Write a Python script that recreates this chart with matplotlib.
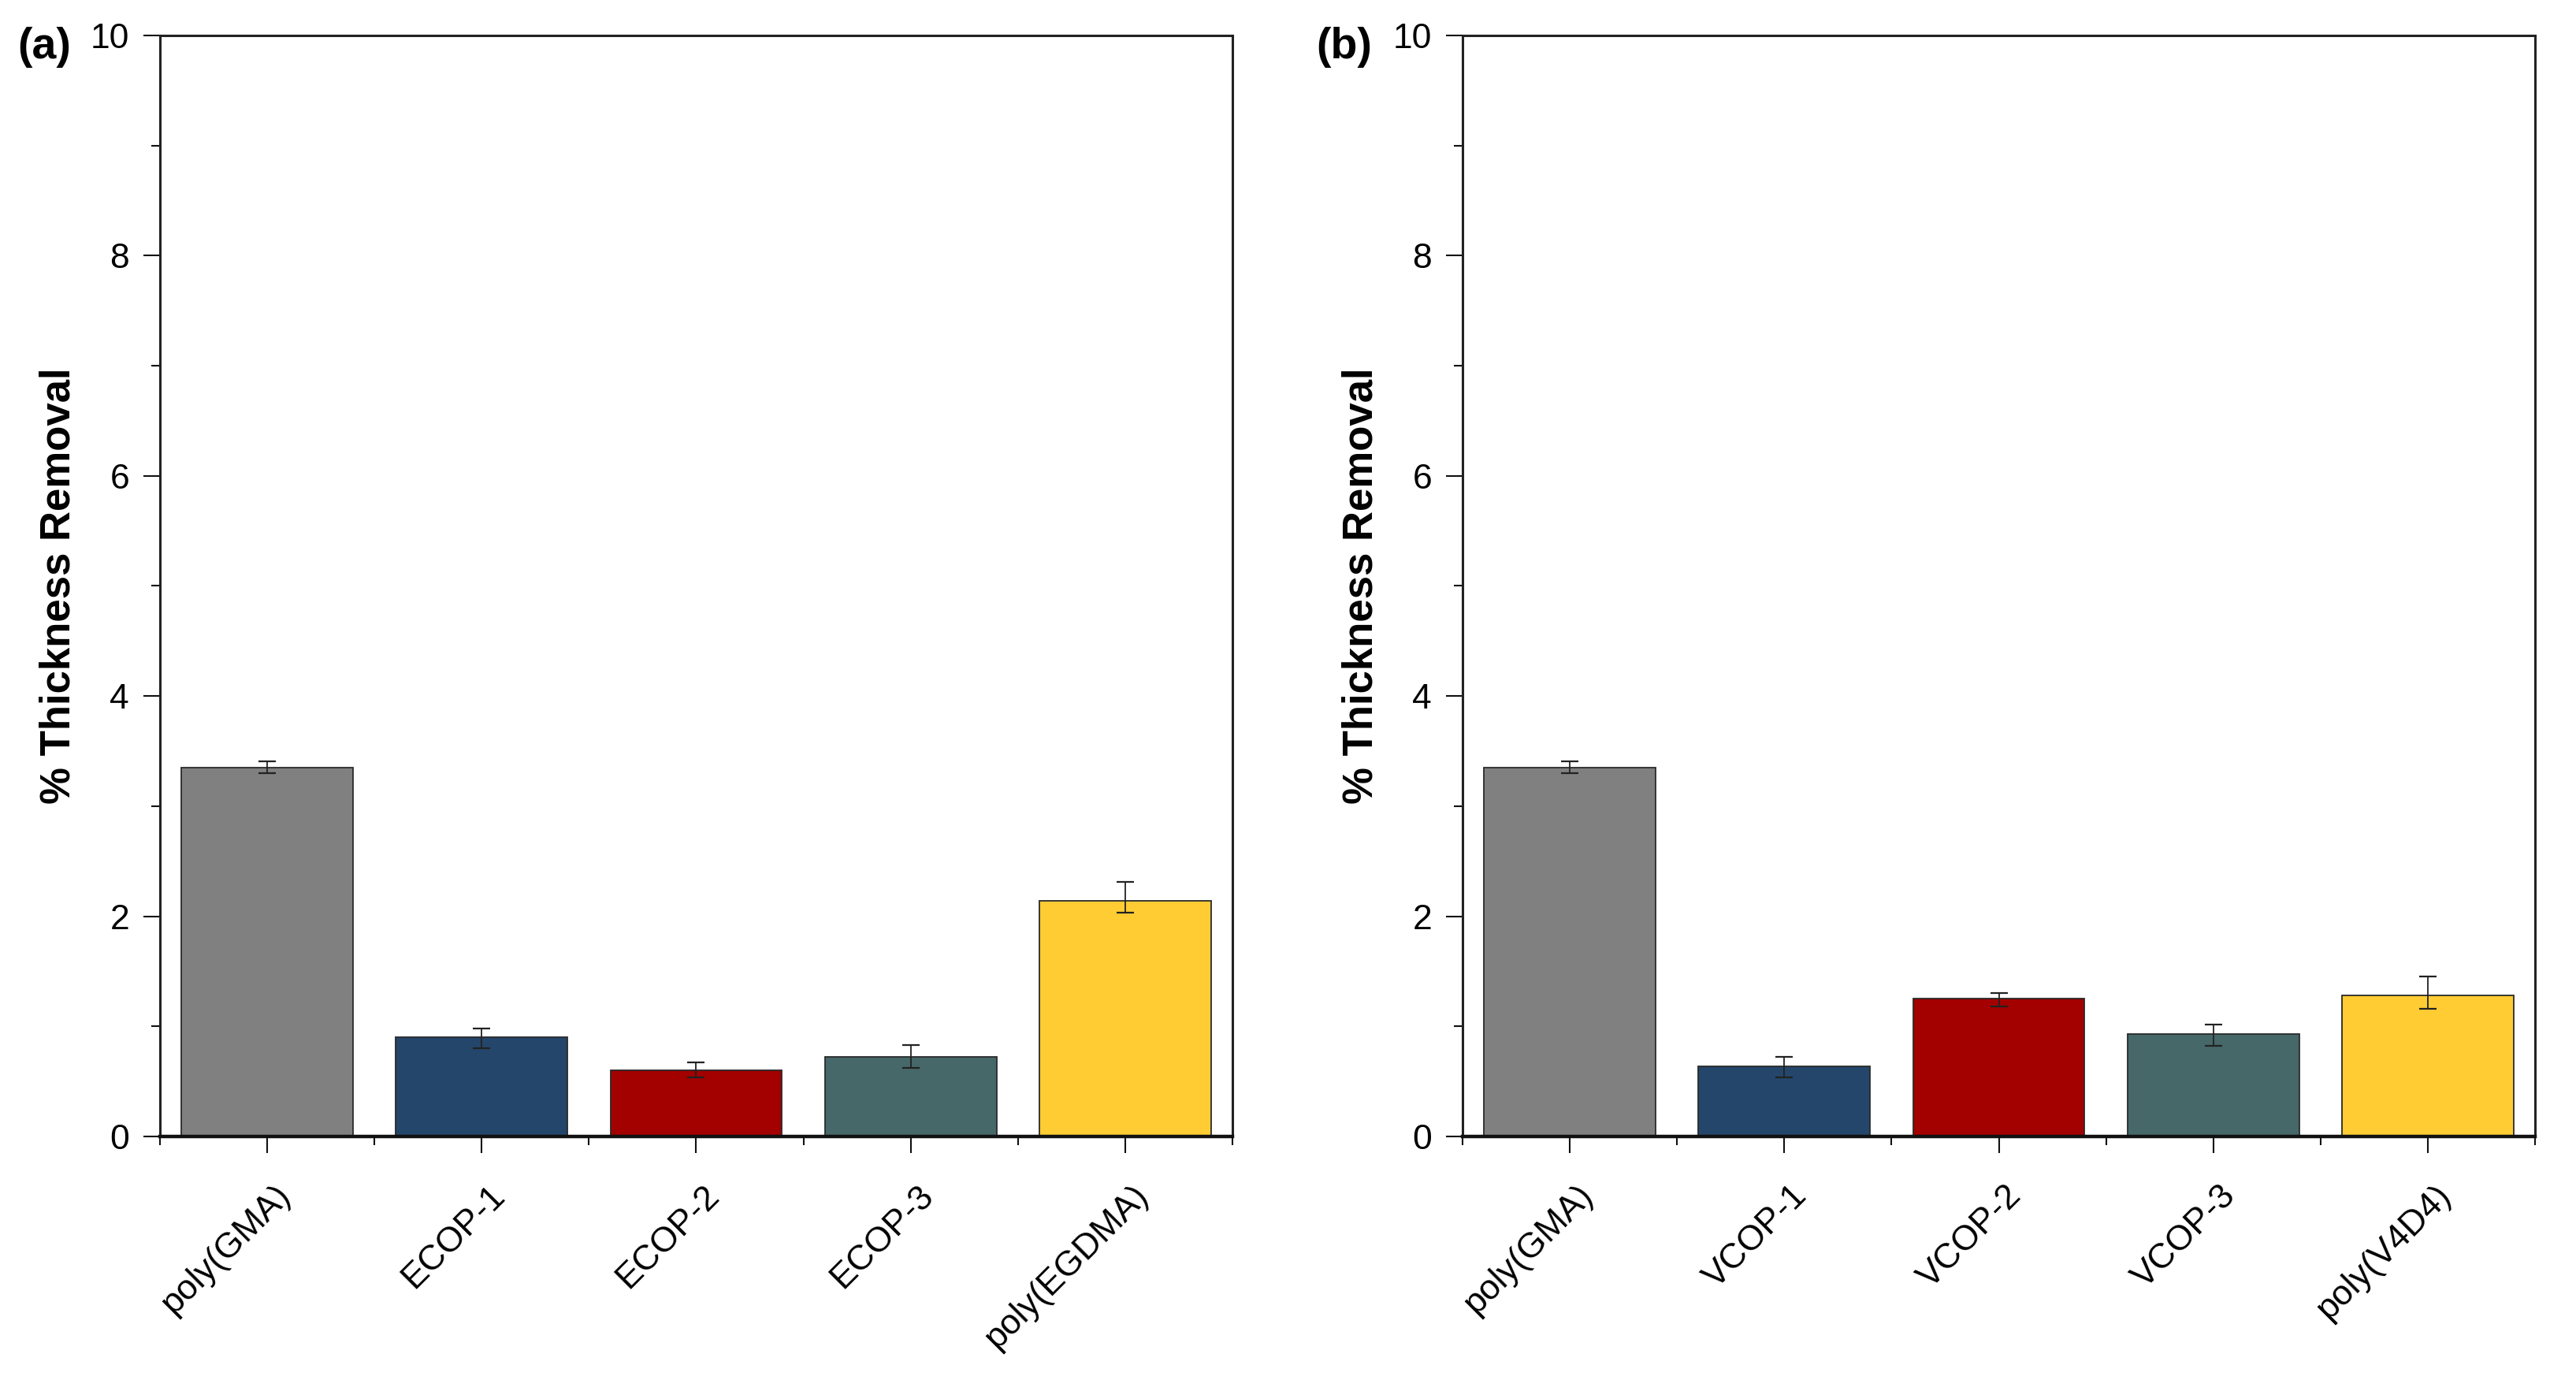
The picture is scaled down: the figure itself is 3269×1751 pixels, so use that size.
import matplotlib
matplotlib.use("Agg")
import matplotlib.pyplot as plt
from matplotlib.ticker import MultipleLocator, FixedLocator
from matplotlib.transforms import ScaledTranslation
import numpy as np

plt.rcParams['font.family'] = ['Liberation Sans', 'DejaVu Sans']

# ---- data ----
cats_a = ["poly(GMA)", "ECOP-1", "ECOP-2", "ECOP-3", "poly(EGDMA)"]
vals_a = [3.35, 0.90, 0.60, 0.72, 2.14]
err_lo_a = [0.05, 0.10, 0.06, 0.10, 0.11]
err_hi_a = [0.06, 0.08, 0.07, 0.11, 0.17]

cats_b = ["poly(GMA)", "VCOP-1", "VCOP-2", "VCOP-3", "poly(V4D4)"]
vals_b = [3.35, 0.64, 1.25, 0.93, 1.28]
err_lo_b = [0.05, 0.10, 0.07, 0.11, 0.12]
err_hi_b = [0.06, 0.08, 0.05, 0.09, 0.17]

colors = ["#808080", "#24466A", "#A30000", "#466869", "#FFCC33"]
panel_labels = ["(a)", "(b)"]
ylabel = "% Thickness Removal"

W, H = 3269, 1751
DPI = 100
fig = plt.figure(figsize=(W / DPI, H / DPI), dpi=DPI)

ax_left_px = [203, 1856]
ax_w_px = 1361
ax_top_px = 45
ax_bot_px = 1442
label_x_px = [22, 1670]


def draw(ax, cats, vals, lo, hi):
    x = np.arange(1, len(cats) + 1)
    ax.bar(x, vals, width=0.8, color=colors, edgecolor="#2a2a2a",
           linewidth=1.3, zorder=2)
    ax.errorbar(x, vals, yerr=[lo, hi], fmt="none", ecolor="#222222",
                elinewidth=1.3, capsize=8, capthick=1.6, zorder=3)
    ax.set_xlim(0.5, len(cats) + 0.5)
    ax.set_ylim(0, 10)
    ax.yaxis.set_major_locator(MultipleLocator(2))
    ax.yaxis.set_minor_locator(MultipleLocator(1))
    ax.set_xticks(x)
    ax.xaxis.set_minor_locator(FixedLocator(np.arange(0.5, len(cats) + 1, 1.0)))
    ax.tick_params(axis="both", which="major", direction="out", length=15,
                   width=1.5, labelsize=32, color="#111111")
    ax.tick_params(axis="y", which="major", pad=13)
    ax.tick_params(axis="x", which="major", pad=24)
    ax.tick_params(axis="both", which="minor", direction="out", length=8,
                   width=1.5, color="#111111")
    ax.set_xticklabels(cats, rotation=45, ha="right", va="top")
    off = ScaledTranslation(37 / DPI, 0, fig.dpi_scale_trans)
    for lab in ax.get_xticklabels():
        lab.set_transform(lab.get_transform() + off)
    for s in ["left", "right", "top"]:
        ax.spines[s].set_linewidth(2.2)
        ax.spines[s].set_color("#222222")
    ax.spines["bottom"].set_linewidth(3.2)
    ax.spines["bottom"].set_color("#111111")
    ax.set_ylabel(ylabel, fontsize=38, fontweight="bold", labelpad=11)


for i, (cats, vals, lo, hi) in enumerate([(cats_a, vals_a, err_lo_a, err_hi_a),
                                         (cats_b, vals_b, err_lo_b, err_hi_b)]):
    ax = fig.add_axes([ax_left_px[i] / W, 1 - ax_bot_px / H,
                       ax_w_px / W, (ax_bot_px - ax_top_px) / H])
    draw(ax, cats, vals, lo, hi)
    fig.text(label_x_px[i] / W, 1 - 60 / H, panel_labels[i], fontsize=40,
             fontweight="bold", ha="left", va="center")

fig.savefig("out.png", dpi=DPI, facecolor="white")
